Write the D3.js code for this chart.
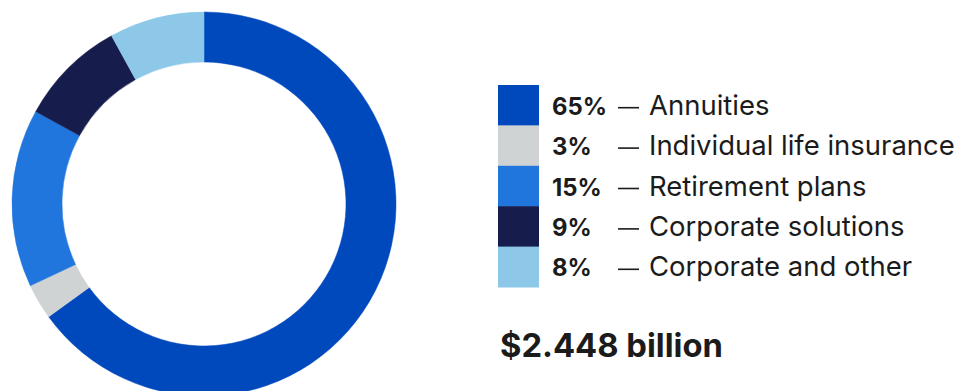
<!DOCTYPE html>
<html>
<head>
<meta charset="utf-8">
<script src="https://cdn.jsdelivr.net/npm/d3@7"></script>
<style>
  html, body { margin: 0; padding: 0; background: #ffffff; }
  svg { display: block; }
  text { font-family: Inter, "Open Sans", sans-serif; fill: #1b1b1b; }
</style>
</head>
<body>
<svg id="chart" width="960" height="391"></svg>
<script>
// Earnings mix by segment
const categories = ["Annuities", "Individual life insurance", "Retirement plans", "Corporate solutions", "Corporate and other"];
const shares = [65, 3, 15, 9, 8];
const shareLabels = ["65%", "3%", "15%", "9%", "8%"];
const colors = ["#0049bd", "#d0d3d4", "#2176dd", "#161c4b", "#8dc8e9"];
const totalLabel = "$2.448 billion";

const svg = d3.select("#chart");

// ---- donut ----
const cx = 204, cy = 204, outerR = 192, innerR = 142;
const pie = d3.pie().sort(null).value(d => d.value);
const arc = d3.arc().innerRadius(innerR).outerRadius(outerR);
const data = categories.map((c, i) => ({ name: c, value: shares[i], color: colors[i] }));

svg.append("g")
  .attr("transform", `translate(${cx},${cy})`)
  .selectAll("path")
  .data(pie(data))
  .join("path")
  .attr("d", arc)
  .attr("fill", d => d.data.color)
  .attr("stroke", d => d.data.color)
  .attr("stroke-width", 0.5);

// ---- legend ----
const y = d3.scaleBand().domain(categories).range([85, 287]).paddingInner(0);
const swatchX = 498, swatchW = 41;
const pctX = 552, dashX = 618, labelX = 649;

const legend = svg.append("g");
legend.selectAll("rect")
  .data(data)
  .join("rect")
  .attr("x", swatchX)
  .attr("y", d => y(d.name))
  .attr("width", swatchW)
  .attr("height", y.bandwidth() + 0.5)
  .attr("fill", d => d.color);

// fit a font size so a reference string spans a given width
function fitSize(text, weight, targetW) {
  const t = svg.append("text").attr("font-size", 100).attr("font-weight", weight).text(text);
  const w = t.node().getComputedTextLength();
  t.remove();
  return 100 * targetW / w;
}
const labelSize = fitSize("Individual life insurance", 400, 306);
const pctSize = fitSize("65%", 700, 55);
const totalSize = fitSize(totalLabel, 700, 223);

const rows = legend.selectAll("g.row")
  .data(data)
  .join("g")
  .attr("class", "row")
  .attr("transform", d => `translate(0,${y(d.name) + y.bandwidth() / 2 + 9.5})`);

rows.append("text")
  .attr("x", pctX)
  .attr("font-size", pctSize)
  .attr("font-weight", 700)
  .text((d, i) => shareLabels[i]);

rows.append("line")
  .attr("x1", dashX).attr("x2", dashX + 21)
  .attr("y1", -7).attr("y2", -7)
  .attr("stroke", "#1b1b1b")
  .attr("stroke-width", 1.6);

rows.append("text")
  .attr("x", labelX)
  .attr("font-size", labelSize)
  .attr("font-weight", 400)
  .text(d => d.name);

// ---- total ----
svg.append("text")
  .attr("x", 500)
  .attr("y", 357)
  .attr("font-size", totalSize)
  .attr("font-weight", 700)
  .text(totalLabel);
</script>
</body>
</html>
